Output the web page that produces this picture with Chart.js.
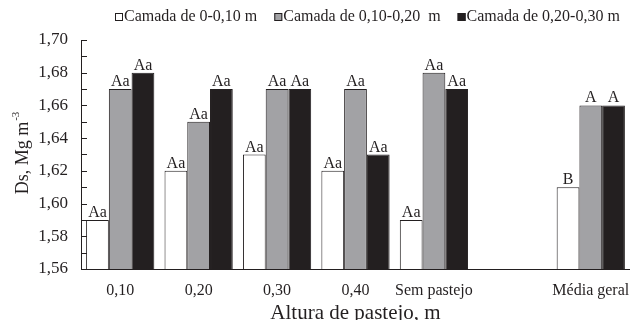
<!DOCTYPE html>
<html>
<head>
<meta charset="utf-8">
<script src="https://cdn.jsdelivr.net/npm/chart.js@4.4.1/dist/chart.umd.min.js"></script>
<style>
  html, body { margin: 0; padding: 0; background: #ffffff; }
  #wrap { width: 630px; height: 320px; position: relative; }
</style>
</head>
<body>
<div id="wrap"><canvas id="chart"></canvas></div>
<script>
// Grazing heights (the blank slot separates the overall mean group)
const categories = ['0,10', '0,20', '0,30', '0,40', 'Sem pastejo', '', 'Média geral'];

// Soil bulk density (Mg m-3) per soil layer
const layer0010 = [1.59, 1.62, 1.63, 1.62, 1.59, null, 1.61];
const layer1020 = [1.67, 1.65, 1.67, 1.67, 1.68, null, 1.66];
const layer2030 = [1.68, 1.67, 1.67, 1.63, 1.67, null, 1.66];

// Mean comparison letters printed above each bar
const letters0010 = ['Aa', 'Aa', 'Aa', 'Aa', 'Aa', '', 'B'];
const letters1020 = ['Aa', 'Aa', 'Aa', 'Aa', 'Aa', '', 'A'];
const letters2030 = ['Aa', 'Aa', 'Aa', 'Aa', 'Aa', '', 'A'];

const seriesNames = ['Camada de 0-0,10 m', 'Camada de 0,10-0,20  m', 'Camada de 0,20-0,30 m'];

// Value axis
const yMin = 1.56;
const yMax = 1.70;
const yStep = 0.02;
const yMinorStep = 0.01;

const INK = '#231f20';
const SERIF = '"Liberation Serif", "Times New Roman", serif';

Chart.defaults.font.family = SERIF;
Chart.defaults.color = INK;

// Compact legend row: small square swatch hugging its label
const legendRow = {
  id: 'legendRow',
  afterDraw(chart) {
    const ctx = chart.ctx;
    ctx.save();
    ctx.font = '16px ' + SERIF;
    ctx.textBaseline = 'middle';
    ctx.textAlign = 'left';
    let x = 115;
    const cy = 17;
    chart.data.datasets.forEach((ds) => {
      ctx.fillStyle = ds.backgroundColor;
      ctx.fillRect(x, cy - 4, 8, 8);
      ctx.strokeStyle = INK;
      ctx.lineWidth = 1;
      ctx.strokeRect(x + 0.5, cy - 3.5, 7, 7);
      ctx.fillStyle = INK;
      ctx.fillText(ds.label, x + 9, cy);
      x += 9 + ctx.measureText(ds.label).width + 17;
    });
    ctx.restore();
  }
};

// Letters above bars
const letterPlugin = {
  id: 'barLetters',
  afterDatasetsDraw(chart) {
    const sets = [letters0010, letters1020, letters2030];
    const ctx = chart.ctx;
    ctx.save();
    ctx.font = '16px ' + SERIF;
    ctx.fillStyle = INK;
    ctx.textAlign = 'center';
    ctx.textBaseline = 'alphabetic';
    chart.data.datasets.forEach((ds, i) => {
      chart.getDatasetMeta(i).data.forEach((bar, j) => {
        const t = sets[i][j];
        if (!t || ds.data[j] == null) return;
        ctx.fillText(t, bar.x, bar.y - 3);
      });
    });
    ctx.restore();
  }
};

// Inward major/minor tick marks on the value axis, plus the rotated axis title
const axisPlugin = {
  id: 'axisExtras',
  afterDraw(chart) {
    const ctx = chart.ctx;
    const y = chart.scales.y;
    const left = chart.chartArea.left;
    ctx.save();
    ctx.strokeStyle = INK;
    ctx.lineWidth = 1;
    const n = Math.round((yMax - yMin) / yMinorStep);
    for (let k = 0; k <= n; k++) {
      const v = yMin + k * yMinorStep;
      const py = Math.round(y.getPixelForValue(v)) + 0.5;
      ctx.beginPath();
      ctx.moveTo(left, py);
      ctx.lineTo(left + 6, py);
      ctx.stroke();
    }
    // Axis title with superscript exponent
    const cy = (chart.chartArea.top + chart.chartArea.bottom) / 2 - 1;
    ctx.translate(23, cy);
    ctx.rotate(-Math.PI / 2);
    ctx.fillStyle = INK;
    ctx.textBaseline = 'middle';
    const main = 'Ds, Mg m';
    ctx.font = '18px ' + SERIF;
    const w1 = ctx.measureText(main).width;
    ctx.font = '11px ' + SERIF;
    const w2 = ctx.measureText('-3').width;
    const x0 = -(w1 + w2) / 2;
    ctx.font = '18px ' + SERIF;
    ctx.textAlign = 'left';
    ctx.fillText(main, x0, 0);
    ctx.font = '11px ' + SERIF;
    ctx.fillText('-3', x0 + w1 + 1, -7);
    ctx.restore();
  }
};

const barBorder = 1;

new Chart(document.getElementById('chart'), {
  type: 'bar',
  data: {
    labels: categories,
    datasets: [
      { label: seriesNames[0], data: layer0010, backgroundColor: '#ffffff', borderColor: INK, borderWidth: barBorder, base: yMin },
      { label: seriesNames[1], data: layer1020, backgroundColor: '#a2a2a5', borderColor: INK, borderWidth: barBorder, base: yMin },
      { label: seriesNames[2], data: layer2030, backgroundColor: INK, borderColor: INK, borderWidth: barBorder, base: yMin }
    ]
  },
  options: {
    responsive: true,
    maintainAspectRatio: false,
    animation: false,
    categoryPercentage: 0.87,
    barPercentage: 1.0,
    layout: { padding: { left: 0, right: 0, top: 40, bottom: 0 } },
    plugins: {
      legend: { display: false },
      tooltip: { enabled: false }
    },
    scales: {
      x: {
        grid: { display: false },
        border: { display: true, color: INK, width: 1 },
        ticks: { color: INK, font: { family: SERIF, size: 16 }, padding: 4, maxRotation: 0, autoSkip: false },
        title: { display: true, text: 'Altura de pastejo, m', color: INK, font: { family: SERIF, size: 21 }, padding: { top: 0, bottom: -6 } },
        afterFit(s) { s.height = 51; s.paddingLeft = 0; s.paddingRight = 0; }
      },
      y: {
        min: yMin,
        max: yMax,
        grid: { display: false },
        border: { display: true, color: INK, width: 1 },
        ticks: {
          stepSize: yStep,
          color: INK,
          font: { family: SERIF, size: 17 },
          padding: 5,
          callback: (v) => Number(v).toFixed(2).replace('.', ',')
        },
        afterFit(s) { s.width = 81; s.paddingTop = 0; s.paddingBottom = 0; }
      }
    }
  },
  plugins: [legendRow, letterPlugin, axisPlugin]
});
</script>
</body>
</html>
